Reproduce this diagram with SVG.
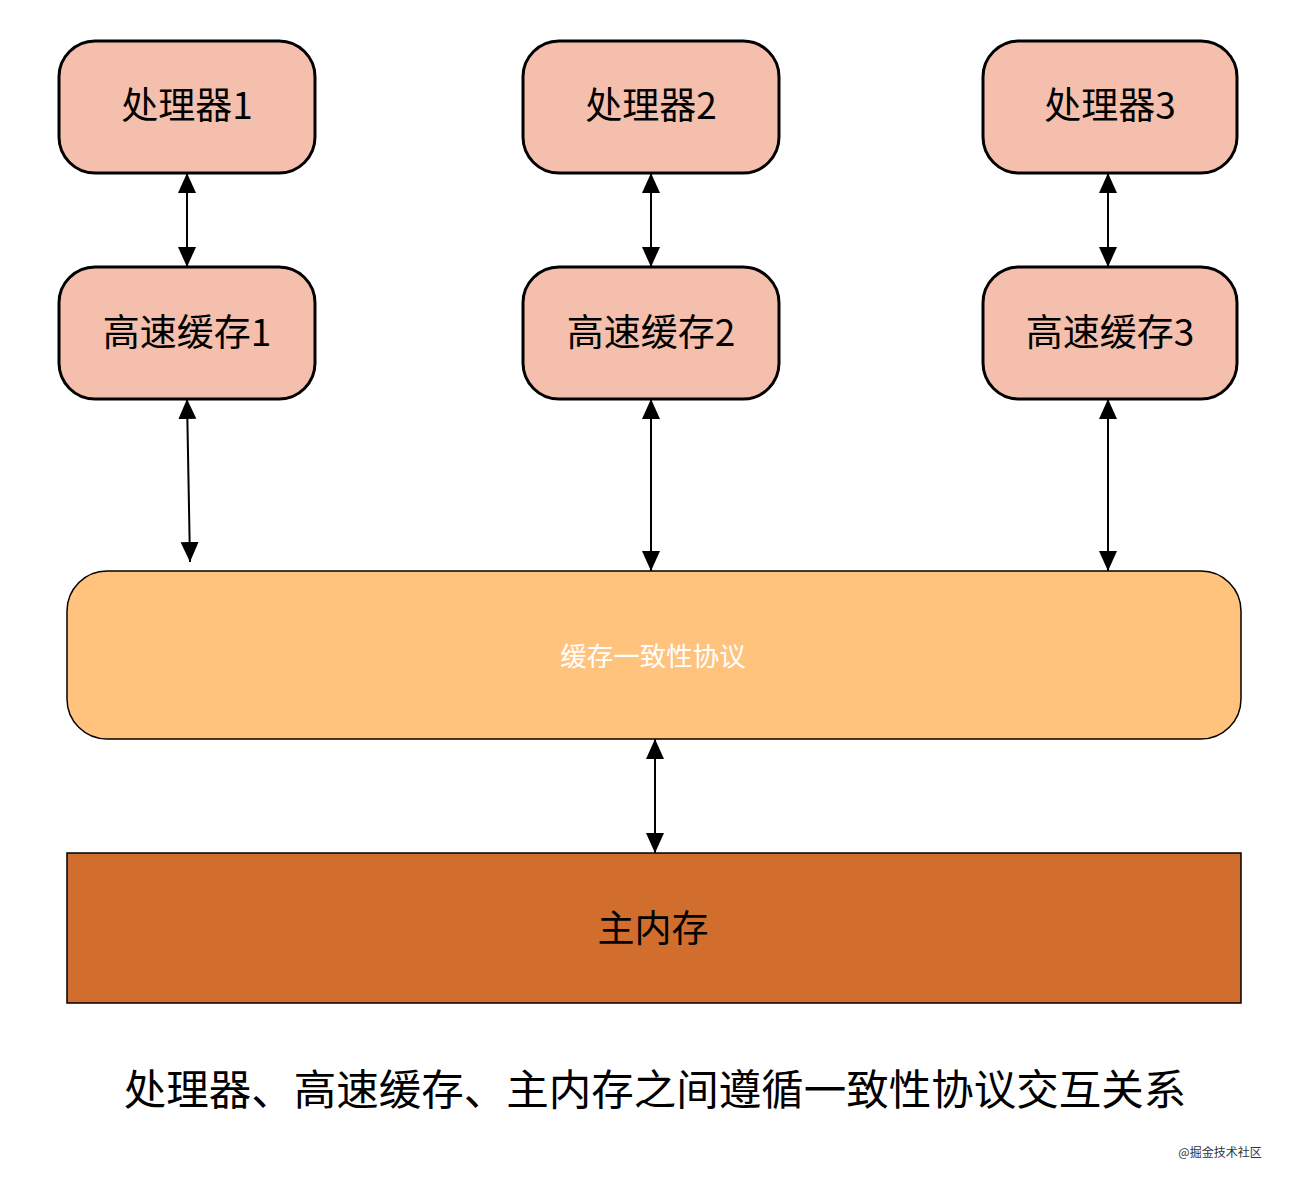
<svg xmlns="http://www.w3.org/2000/svg" width="1290" height="1182" viewBox="0 0 1290 1182">
<style>
.node{fill:#F4BFAC;stroke:#000;stroke-width:3}
.t{font-family:"Noto Sans CJK SC","Noto Sans",sans-serif;text-anchor:middle;dominant-baseline:central;fill:#000}
.big{font-size:37px}
</style>
<defs>
<marker id="a2" viewBox="0 0 20 20" refX="20" refY="10" markerWidth="20" markerHeight="20" markerUnits="userSpaceOnUse" orient="auto-start-reverse">
<path d="M0,1 L20,10 L0,19 z" fill="#000"/>
</marker>
</defs>
<rect width="1290" height="1182" fill="#fff"/>
<g id="connectors">
<line x1="187" y1="173" x2="187" y2="267" stroke="#000" stroke-width="2" marker-start="url(#a2)" marker-end="url(#a2)"/>
<line x1="651" y1="173" x2="651" y2="267" stroke="#000" stroke-width="2" marker-start="url(#a2)" marker-end="url(#a2)"/>
<line x1="1108" y1="173" x2="1108" y2="267" stroke="#000" stroke-width="2" marker-start="url(#a2)" marker-end="url(#a2)"/>
<line x1="187" y1="399" x2="190" y2="562" stroke="#000" stroke-width="2" marker-start="url(#a2)" marker-end="url(#a2)"/>
<line x1="651" y1="399" x2="651" y2="571" stroke="#000" stroke-width="2" marker-start="url(#a2)" marker-end="url(#a2)"/>
<line x1="1108" y1="399" x2="1108" y2="571" stroke="#000" stroke-width="2" marker-start="url(#a2)" marker-end="url(#a2)"/>
<line x1="655" y1="739" x2="655" y2="853" stroke="#000" stroke-width="2" marker-start="url(#a2)" marker-end="url(#a2)"/>
</g>
<g id="p1"><rect class="node" x="59" y="41" width="256" height="132" rx="36"/><text class="t big" x="187" y="103">处理器1</text></g>
<g id="p2"><rect class="node" x="523" y="41" width="256" height="132" rx="36"/><text class="t big" x="651" y="103">处理器2</text></g>
<g id="p3"><rect class="node" x="983" y="41" width="254" height="132" rx="36"/><text class="t big" x="1110" y="103">处理器3</text></g>
<g id="c1"><rect class="node" x="59" y="267" width="256" height="132" rx="36"/><text class="t big" x="187" y="330">高速缓存1</text></g>
<g id="c2"><rect class="node" x="523" y="267" width="256" height="132" rx="36"/><text class="t big" x="651" y="330">高速缓存2</text></g>
<g id="c3"><rect class="node" x="983" y="267" width="254" height="132" rx="36"/><text class="t big" x="1110" y="330">高速缓存3</text></g>
<g id="protocol"><rect x="67" y="571" width="1174" height="168" rx="40" fill="#FFC37D" stroke="#000" stroke-width="1.5"/><text class="t" x="653" y="654" font-size="26.5" style="fill:#fff">缓存一致性协议</text></g>
<g id="memory"><rect x="67" y="853" width="1174" height="150" fill="#D26E2D" stroke="#000" stroke-width="1.5"/><text class="t big" x="653" y="926">主内存</text></g>
<text class="t" x="655" y="1086" font-size="42.5">处理器、高速缓存、主内存之间遵循一致性协议交互关系</text>
<text class="t" x="1220" y="1151" font-size="12" style="fill:#333">@掘金技术社区</text>
</svg>
